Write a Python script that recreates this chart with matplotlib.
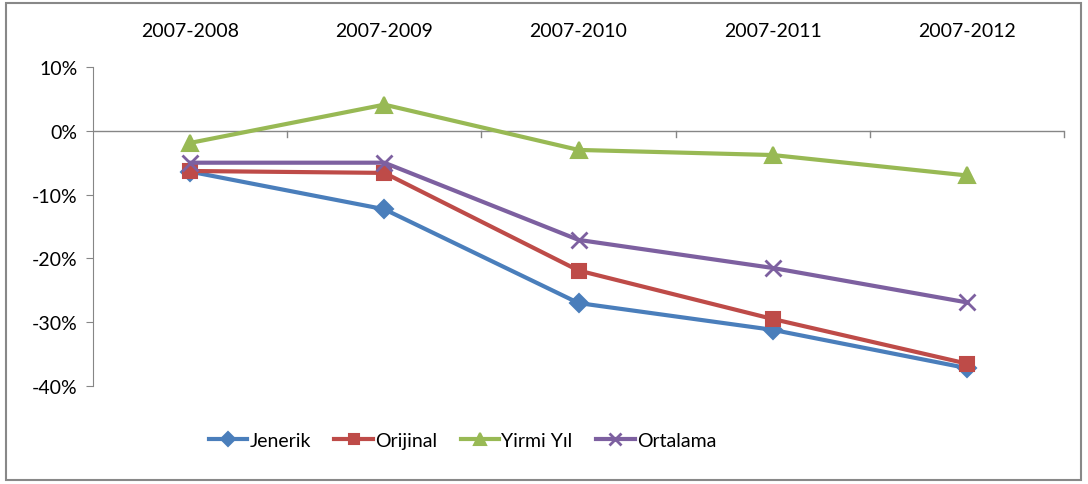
import matplotlib.pyplot as plt
import matplotlib.patches as patches
import numpy as np

plt.rcParams['font.family'] = ['Lato', 'DejaVu Sans']

# Data (percent)
periods = ['2007-2008', '2007-2009', '2007-2010', '2007-2011', '2007-2012']
jenerik = [-6.4, -12.3, -27.0, -31.2, -37.2]
orijinal = [-6.3, -6.6, -21.9, -29.5, -36.5]
yirmi_yil = [-1.9, 4.1, -3.0, -3.8, -7.0]
ortalama = [-5.0, -5.0, -17.1, -21.5, -26.9]

series = [
    ('Jenerik', jenerik, '#4A7EBB', 'D', 9),
    ('Orijinal', orijinal, '#BE4B48', 's', 10),
    ('Yirmi Y\u0131l', yirmi_yil, '#98B954', '^', 11),
    ('Ortalama', ortalama, '#7D60A0', 'x', 11),
]

fig = plt.figure(figsize=(10.88, 4.85), dpi=100)
ax = fig.add_axes([0.0855, 0.2021, 0.8925, 0.6577])

x = np.arange(len(periods))
for name, vals, col, mk, ms in series:
    ax.plot(x, vals, color=col, lw=3, marker=mk, markersize=ms,
            markeredgewidth=1.5 if mk != 'x' else 2, markerfacecolor=col,
            markeredgecolor=col, label=name, clip_on=False, zorder=3)

ax.set_xlim(-0.5, len(periods) - 0.5)
ax.set_ylim(-40, 10)
yt = np.arange(-40, 11, 10)
ax.set_yticks(yt)
ax.set_yticklabels([f'{v}%' for v in yt], fontsize=14)
ax.tick_params(axis='y', length=5, color='#868686', pad=6, direction='out')

for s in ['top', 'right', 'bottom']:
    ax.spines[s].set_visible(False)
ax.spines['left'].set_color('#868686')

# x axis at zero with ticks between categories
ax.axhline(0, color='#868686', lw=1, zorder=1)
ax.set_xticks([])
for b in np.arange(0.5, len(periods) + 0.5, 1):
    ax.plot([b, b], [0, -0.9], color='#868686', lw=1, zorder=1, clip_on=False)
for i, p in enumerate(periods):
    ax.text(i, 1.113, p, transform=ax.get_xaxis_transform(), ha='center',
            va='center', fontsize=14, clip_on=False)

leg = fig.legend(loc='center', bbox_to_anchor=(0.425, 0.09), ncol=4,
                 frameon=False, fontsize=14, handlelength=2.0, markerscale=0.75,
                 handletextpad=0.1, columnspacing=1.2)

fig.patches.append(patches.Rectangle((6 / 1088, 4 / 485), 1075 / 1088, 477 / 485,
                                     transform=fig.transFigure, fill=False,
                                     edgecolor='#888888', lw=1.5))

fig.savefig('out.png', dpi=100)
